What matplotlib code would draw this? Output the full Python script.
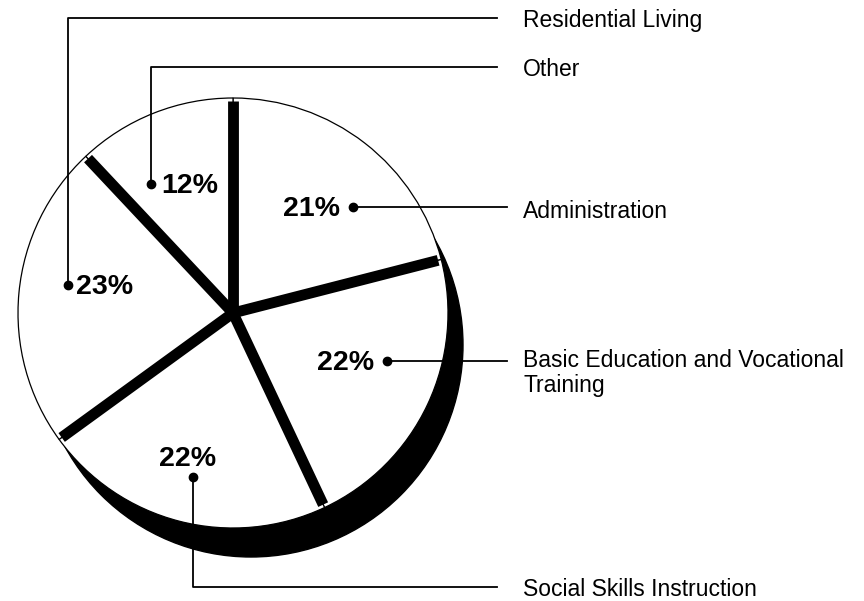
import numpy as np
import matplotlib.pyplot as plt
from matplotlib.patches import Circle

plt.rcParams['font.family'] = ['Liberation Sans', 'DejaVu Sans']

# data
categories = ['Administration', 'Basic Education and Vocational\nTraining',
              'Social Skills Instruction', 'Residential Living', 'Other']
shares = [21, 22, 22, 23, 12]

W, H = 864, 601
def Y(p):  # picture rows -> data y
    return H - p

fig = plt.figure(figsize=(8.64, 6.01), dpi=100)
ax = fig.add_axes([0, 0, 1, 1])

cx, cy, R = 233, Y(313), 215

# shadow behind the pie
ax.add_patch(Circle((cx + 18, cy - 32), 212, color='black', zorder=0))

wedges, _ = ax.pie(shares, startangle=90, counterclock=False, center=(cx, cy),
                   radius=R, colors=['white'] * len(shares),
                   wedgeprops=dict(edgecolor='black', linewidth=0.9))

# thick black separators between the slices
bounds = 90 - 360 * np.concatenate([[0], np.cumsum(shares)[:-1]]) / sum(shares)
for a in np.radians(bounds):
    ax.plot([cx, cx + R * 0.985 * np.cos(a)], [cy, cy + R * 0.985 * np.sin(a)],
            color='black', lw=7.8, solid_capstyle='butt', zorder=3)

# leader layout: dot, path to the label, label position, percent text placement
layout = [
    dict(dot=(353, 207), path=[(507, 207)], lab=(523, 211),
         txt=(340, 209), ha='right', va='center'),
    dict(dot=(387, 361), path=[(507, 361)], lab=(523, 349),
         txt=(374, 363), ha='right', va='center'),
    dict(dot=(193, 477), path=[(193, 587), (497, 587)], lab=(523, 590),
         txt=(188, 472), ha='center', va='bottom'),
    dict(dot=(68, 285), path=[(68, 18), (497, 18)], lab=(523, 21),
         txt=(76, 287), ha='left', va='center'),
    dict(dot=(151, 184), path=[(151, 67), (497, 67)], lab=(523, 70),
         txt=(161, 186), ha='left', va='center'),
]

for cat, v, lo in zip(categories, shares, layout):
    pts = [lo['dot']] + lo['path']
    ax.plot([p[0] for p in pts], [Y(p[1]) for p in pts], color='black', lw=1.3, zorder=4)
    ax.plot(lo['dot'][0], Y(lo['dot'][1]), 'o', color='black', ms=6, zorder=5)
    ax.text(lo['txt'][0], Y(lo['txt'][1]), f'{v}%', fontsize=20.5, fontweight='bold',
            ha=lo['ha'], va=lo['va'], zorder=6)
    va = 'top' if '\n' in cat else 'center'
    ax.text(lo['lab'][0], Y(lo['lab'][1]), cat, fontsize=16.5, ha='left', va=va,
            linespacing=1.12, zorder=6)

ax.set_xlim(0, W)
ax.set_ylim(0, H)
ax.set_aspect('equal')
ax.axis('off')

fig.savefig('out.png', dpi=100, facecolor='white')
